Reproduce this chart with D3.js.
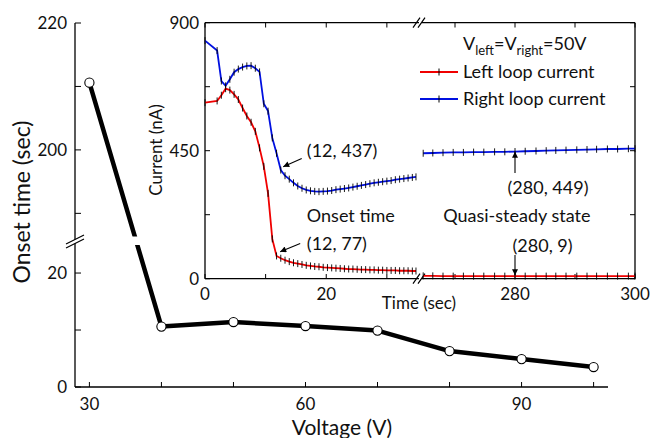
<!DOCTYPE html>
<html>
<head>
<meta charset="utf-8">
<script src="https://cdn.jsdelivr.net/npm/d3@7"></script>
<style>
  body { margin: 0; background: #fff; }
  svg text { font-family: Lato, 'Noto Sans', sans-serif; fill: #111; }
</style>
</head>
<body>
<div class="chart"></div>
<script>
// main chart: onset time vs voltage
const voltage = [30, 40, 50, 60, 70, 80, 90, 100]
const onsetTime = [210.6, 10.6, 11.4, 10.7, 9.9, 6.3, 4.9, 3.5]
const voltTicks = [30, 40, 50, 60, 70, 80, 90, 100]
const voltLabels = [30, 60, 90]
const onsetTicks = [0, 10, 20, 190, 200, 210, 220]
const onsetLabels = [0, 20, 200, 220]

// inset: loop currents, first part (0-35 s) and later part (265-300 s)
const timeEarly = [0, 2.0, 2.7, 3.4, 4.1, 4.8, 5.5, 6.2, 6.9, 7.6, 8.3, 9.0, 9.7, 10.4, 11.1, 11.8, 12.5, 13.2, 13.9, 14.6, 15.3, 16.0, 16.7, 17.4, 18.1, 18.8, 19.5, 20.2, 20.9, 21.6, 22.3, 23.0, 23.7, 24.4, 25.1, 25.8, 26.5, 27.2, 27.9, 28.6, 29.3, 30.0, 30.7, 31.4, 32.1, 32.8, 33.5, 34.2, 34.8]
const leftEarly = [619, 625, 645, 668, 663, 648, 630, 600, 572, 550, 518, 460, 395, 300, 140, 80, 72, 65, 60, 56, 53, 50, 47, 45, 43, 42, 40, 39, 38, 37, 36, 35, 34, 34, 33, 32, 32, 31, 31, 30, 30, 29, 29, 29, 28, 28, 28, 27, 27]
const rightEarly = [837, 802, 695, 678, 701, 726, 737, 744, 748, 749, 740, 727, 615, 589, 495, 441, 382, 362, 350, 337, 326, 318, 312, 309, 307, 306, 307, 308, 310, 313, 315, 317, 319, 322, 325, 328, 331, 334, 337, 339, 341, 343, 345, 348, 350, 352, 354, 356, 358]
const timeLate = [264.7, 266.3, 268.0, 269.7, 271.4, 273.1, 274.8, 276.6, 278.3, 280.0, 281.7, 283.5, 285.2, 286.8, 288.5, 290.3, 292.0, 293.6, 295.4, 297.1, 298.9, 300]
const leftLate = [10, 10, 9, 9, 9, 9, 9, 9, 9, 9, 9, 9, 9, 9, 9, 9, 9, 9, 9, 9, 9, 9]
const rightLate = [441, 442, 443, 444, 444, 445, 445, 446, 446, 447, 448, 449, 450, 451, 452, 453, 454, 455, 456, 456, 457, 457]
const timeTicks = [0, 10, 20, 30, 270, 280, 290, 300]
const timeLabels = [0, 20, 280, 300]
const currentTicks = [0, 225, 450, 675, 900]
const currentLabels = [0, 450, 900]

const svg = d3
  .select('.chart')
  .append('svg')
  .attr('width', 650)
  .attr('height', 438)

svg.append('defs')
  .append('marker')
  .attr('id', 'head')
  .attr('viewBox', '0 0 10 10')
  .attr('refX', 10)
  .attr('refY', 5)
  .attr('markerWidth', 9)
  .attr('markerHeight', 6)
  .attr('markerUnits', 'userSpaceOnUse')
  .attr('orient', 'auto')
  .append('path')
  .attr('d', 'M0,0 L10,5 L0,10 Z')
  .attr('fill', '#000')

// ---------- main axes ----------
const x = d3.scaleLinear().domain([28, 102]).range([75, 608])
// broken y axis: 0..25.8 below, 185.8..220 above
const y = d3.scaleLinear().domain([0, 25.8, 185.8, 220]).range([387, 240, 240, 23])

const main = svg.append('g')

main.append('line')
  .attr('x1', 75).attr('x2', 608)
  .attr('y1', 387).attr('y2', 387)
  .attr('stroke', '#000').attr('stroke-width', 1.3)
main.append('line')
  .attr('x1', 75).attr('x2', 75)
  .attr('y1', 387).attr('y2', 23)
  .attr('stroke', '#000').attr('stroke-width', 1.3)

main.selectAll('.xt')
  .data(voltTicks)
  .enter()
  .append('line')
  .attr('x1', (d) => x(d)).attr('x2', (d) => x(d))
  .attr('y1', 387).attr('y2', 382)
  .attr('stroke', '#000')
main.selectAll('.xl')
  .data(voltLabels)
  .enter()
  .append('text')
  .attr('x', (d) => x(d))
  .attr('y', 410)
  .attr('text-anchor', 'middle')
  .attr('font-size', 17)
  .text((d) => d)

main.selectAll('.yt')
  .data(onsetTicks)
  .enter()
  .append('line')
  .attr('x1', 75).attr('x2', 81)
  .attr('y1', (d) => y(d)).attr('y2', (d) => y(d))
  .attr('stroke', '#000')
main.selectAll('.yl')
  .data(onsetLabels)
  .enter()
  .append('text')
  .attr('x', 67)
  .attr('y', (d) => y(d) + 6)
  .attr('text-anchor', 'end')
  .attr('font-size', 17)
  .text((d) => d)

// axis break mark
main.append('path')
  .attr('d', 'M66,244 L84,235 L84,239 L66,248 Z')
  .attr('fill', '#fff')
main.append('path')
  .attr('d', 'M66,244 L84,235 M66,248 L84,239')
  .attr('stroke', '#000').attr('stroke-width', 1.2)

main.append('text')
  .attr('transform', 'translate(30,202) rotate(-90)')
  .attr('text-anchor', 'middle')
  .attr('font-size', 23)
  .text('Onset time (sec)')
main.append('text')
  .attr('x', 342)
  .attr('y', 435)
  .attr('text-anchor', 'middle')
  .attr('font-size', 21)
  .text('Voltage (V)')

const pts = voltage.map((v, i) => [v, onsetTime[i]])
main.append('path')
  .attr('d', d3.line().x((d) => x(d[0])).y((d) => y(d[1]))(pts))
  .attr('fill', 'none')
  .attr('stroke', '#000')
  .attr('stroke-width', 4.5)
  .attr('stroke-linejoin', 'round')
// gap in the line at the break
main.append('rect')
  .attr('x', 120).attr('y', 236.5)
  .attr('width', 35).attr('height', 8.5)
  .attr('fill', '#fff')
main.selectAll('circle')
  .data(pts)
  .enter()
  .append('circle')
  .attr('cx', (d) => x(d[0]))
  .attr('cy', (d) => y(d[1]))
  .attr('r', 4.6)
  .attr('fill', '#fff')
  .attr('stroke', '#000')
  .attr('stroke-width', 1.1)

// ---------- inset ----------
const xi = d3.scaleLinear().domain([0, 35.3, 264.5, 300]).range([205, 419, 422, 635])
const yi = d3.scaleLinear().domain([0, 900]).range([278.7, 22.7])
const inset = svg.append('g')

inset.append('rect')
  .attr('x', 205).attr('y', 22.7)
  .attr('width', 430).attr('height', 256)
  .attr('fill', '#fff')

const frame = [
  [205, 278.7, 205, 22.7],
  [635, 278.7, 635, 22.7],
  [205, 278.7, 419, 278.7],
  [422, 278.7, 635, 278.7],
  [205, 22.7, 419, 22.7],
  [422, 22.7, 635, 22.7]
]
inset.selectAll('.frame')
  .data(frame)
  .enter()
  .append('line')
  .attr('x1', (d) => d[0]).attr('y1', (d) => d[1])
  .attr('x2', (d) => d[2]).attr('y2', (d) => d[3])
  .attr('stroke', '#000').attr('stroke-width', 1.3)

timeTicks.forEach((t) => {
  inset.append('line')
    .attr('x1', xi(t)).attr('x2', xi(t))
    .attr('y1', 278.7).attr('y2', 274)
    .attr('stroke', '#000')
  inset.append('line')
    .attr('x1', xi(t)).attr('x2', xi(t))
    .attr('y1', 22.7).attr('y2', 27.5)
    .attr('stroke', '#000')
})
currentTicks.forEach((c) => {
  inset.append('line')
    .attr('x1', 205).attr('x2', 210)
    .attr('y1', yi(c)).attr('y2', yi(c))
    .attr('stroke', '#000')
  inset.append('line')
    .attr('x1', 635).attr('x2', 630)
    .attr('y1', yi(c)).attr('y2', yi(c))
    .attr('stroke', '#000')
})
inset.selectAll('.il')
  .data(timeLabels)
  .enter()
  .append('text')
  .attr('x', (d) => xi(d))
  .attr('y', 300)
  .attr('text-anchor', 'middle')
  .attr('font-size', 17)
  .text((d) => d)
inset.selectAll('.cl')
  .data(currentLabels)
  .enter()
  .append('text')
  .attr('x', 199)
  .attr('y', (d) => yi(d) + 6)
  .attr('text-anchor', 'end')
  .attr('font-size', 17)
  .text((d) => d)

// break marks on the inset time axis
;[22.7, 278.7].forEach((yy) => {
  inset.append('path')
    .attr('d', `M413,${yy + 5} L420,${yy - 5} M418,${yy + 5} L425,${yy - 5}`)
    .attr('stroke', '#000').attr('stroke-width', 1.2)
})

inset.append('text')
  .attr('transform', 'translate(162,150) rotate(-90)')
  .attr('text-anchor', 'middle')
  .attr('font-size', 17)
  .text('Current (nA)')
inset.append('text')
  .attr('x', 419)
  .attr('y', 309)
  .attr('text-anchor', 'middle')
  .attr('font-size', 17)
  .text('Time (sec)')

const series = [
  { t: timeEarly, v: rightEarly, color: '#0010e0' },
  { t: timeLate, v: rightLate, color: '#0010e0' },
  { t: timeEarly, v: leftEarly, color: '#f00000' },
  { t: timeLate, v: leftLate, color: '#f00000' }
]
series.forEach((s) => {
  const data = s.t.map((t, i) => [t, s.v[i]])
  inset.append('path')
    .attr('d', d3.line().x((d) => xi(d[0])).y((d) => yi(d[1]))(data))
    .attr('fill', 'none')
    .attr('stroke', s.color)
    .attr('stroke-width', 1.8)
  inset.append('g')
    .selectAll('line')
    .data(data)
    .enter()
    .append('line')
    .attr('x1', (d) => xi(d[0])).attr('x2', (d) => xi(d[0]))
    .attr('y1', (d) => yi(d[1]) - 3.5).attr('y2', (d) => yi(d[1]) + 3.5)
    .attr('stroke', '#000')
    .attr('stroke-width', 0.9)
})

// annotations
const notes = [
  { text: '(12, 437)', t: 16.8, v: 450, anchor: 'start' },
  { text: 'Onset time', t: 16.8, v: 220, anchor: 'start' },
  { text: '(12, 77)', t: 16.8, v: 122, anchor: 'start' },
  { text: '(280, 449)', t: 285.5, v: 318, anchor: 'middle' },
  { text: 'Quasi-steady state', t: 280.3, v: 220, anchor: 'middle' },
  { text: '(280, 9)', t: 284.6, v: 115, anchor: 'middle' }
]
inset.selectAll('.note')
  .data(notes)
  .enter()
  .append('text')
  .attr('x', (d) => xi(d.t))
  .attr('y', (d) => yi(d.v) + 6)
  .attr('text-anchor', (d) => d.anchor)
  .attr('font-size', 18)
  .text((d) => d.text)

const arrows = [
  [15.95, 423, 12.9, 394],
  [15.7, 124, 12.4, 95],
  [280, 372, 280, 446],
  [280, 83, 280, 12]
]
inset.selectAll('.arrow')
  .data(arrows)
  .enter()
  .append('line')
  .attr('x1', (d) => xi(d[0])).attr('y1', (d) => yi(d[1]))
  .attr('x2', (d) => xi(d[2])).attr('y2', (d) => yi(d[3]))
  .attr('stroke', '#000')
  .attr('stroke-width', 1.1)
  .attr('marker-end', 'url(#head)')

// legend
const legend = inset.append('g')
const vt = legend.append('text')
  .attr('x', 463).attr('y', 50)
  .attr('font-size', 18)
vt.append('tspan').text('V')
vt.append('tspan').attr('font-size', 13).attr('dy', 5).text('left')
vt.append('tspan').attr('dy', -5).text('=V')
vt.append('tspan').attr('font-size', 13).attr('dy', 5).text('right')
vt.append('tspan').attr('dy', -5).text('=50V')

const legendItems = [
  { label: 'Left loop current', color: '#f00000' },
  { label: 'Right loop current', color: '#0010e0' }
]
legendItems.forEach((d, i) => {
  const yy = 72 + i * 27
  legend.append('line')
    .attr('x1', 420).attr('x2', 458)
    .attr('y1', yy).attr('y2', yy)
    .attr('stroke', d.color).attr('stroke-width', 1.8)
  legend.append('line')
    .attr('x1', 439).attr('x2', 439)
    .attr('y1', yy - 3.5).attr('y2', yy + 3.5)
    .attr('stroke', '#000')
  legend.append('text')
    .attr('x', 463).attr('y', yy + 6)
    .attr('font-size', 18)
    .text(d.label)
})
</script>
</body>
</html>
